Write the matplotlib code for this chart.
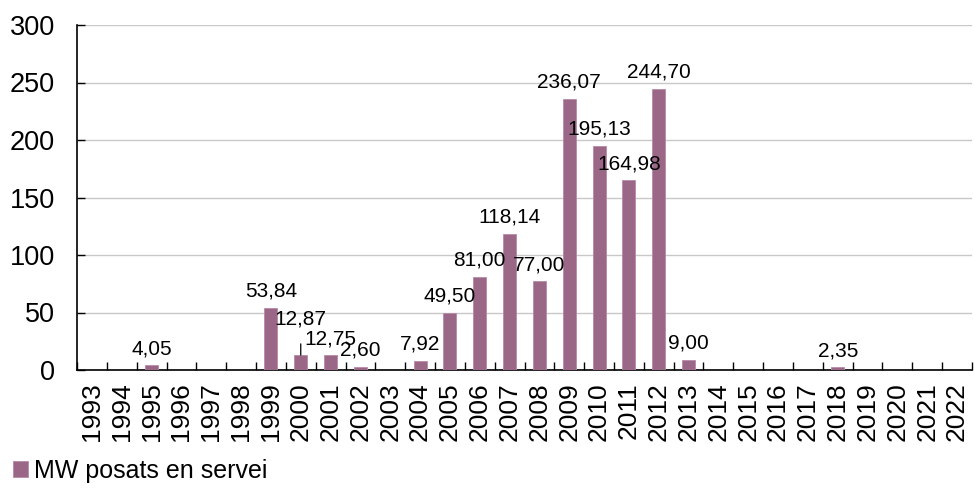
import matplotlib.pyplot as plt
from matplotlib.ticker import FixedLocator

plt.rcParams['font.family'] = ['Liberation Sans', 'DejaVu Sans']

years = [str(y) for y in range(1993, 2023)]
mw = [0, 0, 4.05, 0, 0, 0, 53.84, 12.87, 12.75, 2.60, 0, 7.92, 49.50, 81.00,
      118.14, 77.00, 236.07, 195.13, 164.98, 244.70, 9.00, 0, 0, 0, 0, 2.35,
      0, 0, 0, 0]
bar_color = '#9a6787'

fig = plt.figure(figsize=(9.74, 4.92), dpi=100)
ax = fig.add_axes([77 / 974, 1 - 370 / 492, 895 / 974, 345 / 492])

x = list(range(len(years)))
ax.bar(x, mw, width=0.44, color=bar_color, edgecolor='#b88aa8', linewidth=0.6,
       zorder=3, label='MW posats en servei')

for xi, v in zip(x, mw):
    if v == 0:
        continue
    lab = f"{v:.2f}".replace('.', ',')
    if years[xi] == '2000':
        # label lifted with a leader line
        ax.annotate(lab, (xi, v), xytext=(0, 26), textcoords='offset points',
                    ha='center', va='center', fontsize=15, zorder=4,
                    arrowprops=dict(arrowstyle='-', color='black', lw=0.9,
                                    shrinkA=9, shrinkB=0))
    else:
        ax.annotate(lab, (xi, v), xytext=(0, 12), textcoords='offset points',
                    ha='center', va='center', fontsize=15, zorder=4)

ax.set_xlim(-0.5, len(years) - 0.5)
ax.set_ylim(0, 300)
ax.set_yticks(range(0, 301, 50))
ax.tick_params(axis='y', labelsize=19.5, direction='in', length=6, width=1, pad=16)
ax.set_xticks(x)
ax.set_xticklabels(years, rotation=90, fontsize=19)
ax.tick_params(axis='x', which='major', length=0, pad=9)
ax.xaxis.set_minor_locator(FixedLocator([i - 0.5 for i in range(len(years) + 1)]))
ax.tick_params(axis='x', which='minor', direction='in', length=6, width=1)

ax.grid(axis='y', color='#c8c8c8', lw=1, zorder=0)
for s in ['top', 'right']:
    ax.spines[s].set_visible(False)
for s in ['left', 'bottom']:
    ax.spines[s].set_linewidth(1.2)

fig.legend(loc='lower left', bbox_to_anchor=(-0.002, -0.012), frameon=False,
           fontsize=18, handlelength=0.6, handleheight=0.6, handletextpad=0.25,
           borderaxespad=0.2)

fig.savefig('out.png', dpi=100)
